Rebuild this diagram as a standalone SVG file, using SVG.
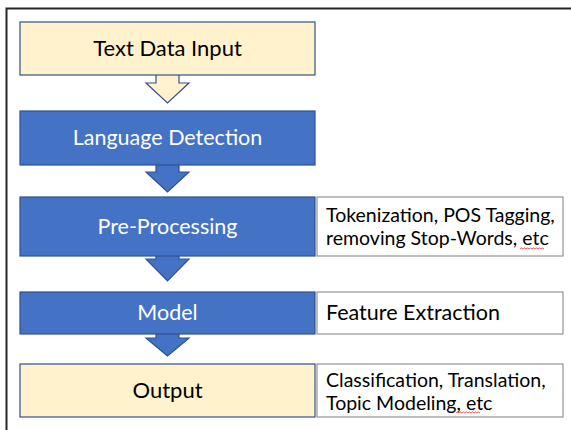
<svg xmlns="http://www.w3.org/2000/svg" width="571" height="430" viewBox="0 0 571 430">
<style>
.frame{fill:none;stroke:#262626;stroke-width:2}
.yel{fill:#FFF2CC;stroke:#2F528F;stroke-width:1.2}
.blu{fill:#4472C4;stroke:#2F528F;stroke-width:1.2}
.note{fill:#FFFFFF;stroke:#7F7F7F;stroke-width:1}
.t{font-family:Lato,"Open Sans","Liberation Sans",sans-serif;text-anchor:middle}
.dk{fill:#000000;font-size:22px}
.wt{fill:#FFFFFF;font-size:21.5px}
.n{font-family:Lato,"Open Sans","Liberation Sans",sans-serif;fill:#000000;font-size:19.5px}
.sq{fill:none;stroke:#E03030;stroke-width:0.8}
</style>
<path class="frame" d="M6.5,430 L6.5,8.5 L571,8.5"/>
<g id="connectors">
<path class="yel" d="M156,75 L156,83 L146,83 L167.5,103 L189,83 L179,83 L179,75"/>
<path class="blu" d="M156,165 L156,172 L146,172 L167.5,192 L189,172 L179,172 L179,165"/>
<path class="blu" d="M156,256 L156,259 L146,259 L167.5,281 L189,259 L179,259 L179,256"/>
<path class="blu" d="M156,334 L156,338 L146,338 L167.5,356 L189,338 L179,338 L179,334"/>
</g>
<g id="text-data-input">
<rect class="yel" x="20" y="22" width="295" height="53"/>
<text class="t dk" x="167.5" y="56">Text Data Input</text>
</g>
<g id="language-detection">
<rect class="blu" x="20" y="111" width="295" height="54"/>
<text class="t wt" x="167.5" y="145">Language Detection</text>
</g>
<g id="pre-processing">
<rect class="blu" x="20" y="197" width="295" height="59"/>
<text class="t wt" x="167.5" y="234">Pre-Processing</text>
</g>
<g id="pre-processing-note">
<rect class="note" x="317" y="197" width="246" height="59"/>
<text class="n" x="326" y="222">Tokenization, POS Tagging,</text>
<text class="n" x="326" y="245">removing Stop-Words, etc</text>
<path class="sq" d="M520,249 l1.5,-1 l1.5,1 l1.5,-1 l1.5,1 l1.5,-1 l1.5,1 l1.5,-1 l1.5,1 l1.5,-1 l1.5,1 l1.5,-1 l1.5,1 l1.5,-1 l1.5,1 l1.5,-1 l1.5,1"/>
</g>
<g id="model">
<rect class="blu" x="20" y="292" width="295" height="42"/>
<text class="t wt" x="167.5" y="320">Model</text>
</g>
<g id="model-note">
<rect class="note" x="317" y="292" width="246" height="42"/>
<text class="n" x="326" y="320" style="font-size:21.5px">Feature Extraction</text>
</g>
<g id="output">
<rect class="yel" x="20" y="364" width="295" height="53"/>
<text class="t dk" x="167.5" y="398">Output</text>
</g>
<g id="output-note">
<rect class="note" x="317" y="364" width="246" height="53"/>
<text class="n" x="326" y="387">Classification, Translation,</text>
<text class="n" x="326" y="410">Topic Modeling, etc</text>
<path class="sq" d="M456,413 l1.5,-1 l1.5,1 l1.5,-1 l1.5,1 l1.5,-1 l1.5,1 l1.5,-1 l1.5,1 l1.5,-1 l1.5,1 l1.5,-1 l1.5,1 l1.5,-1 l1.5,1 l1.5,-1 l1.5,1"/>
</g>
</svg>
